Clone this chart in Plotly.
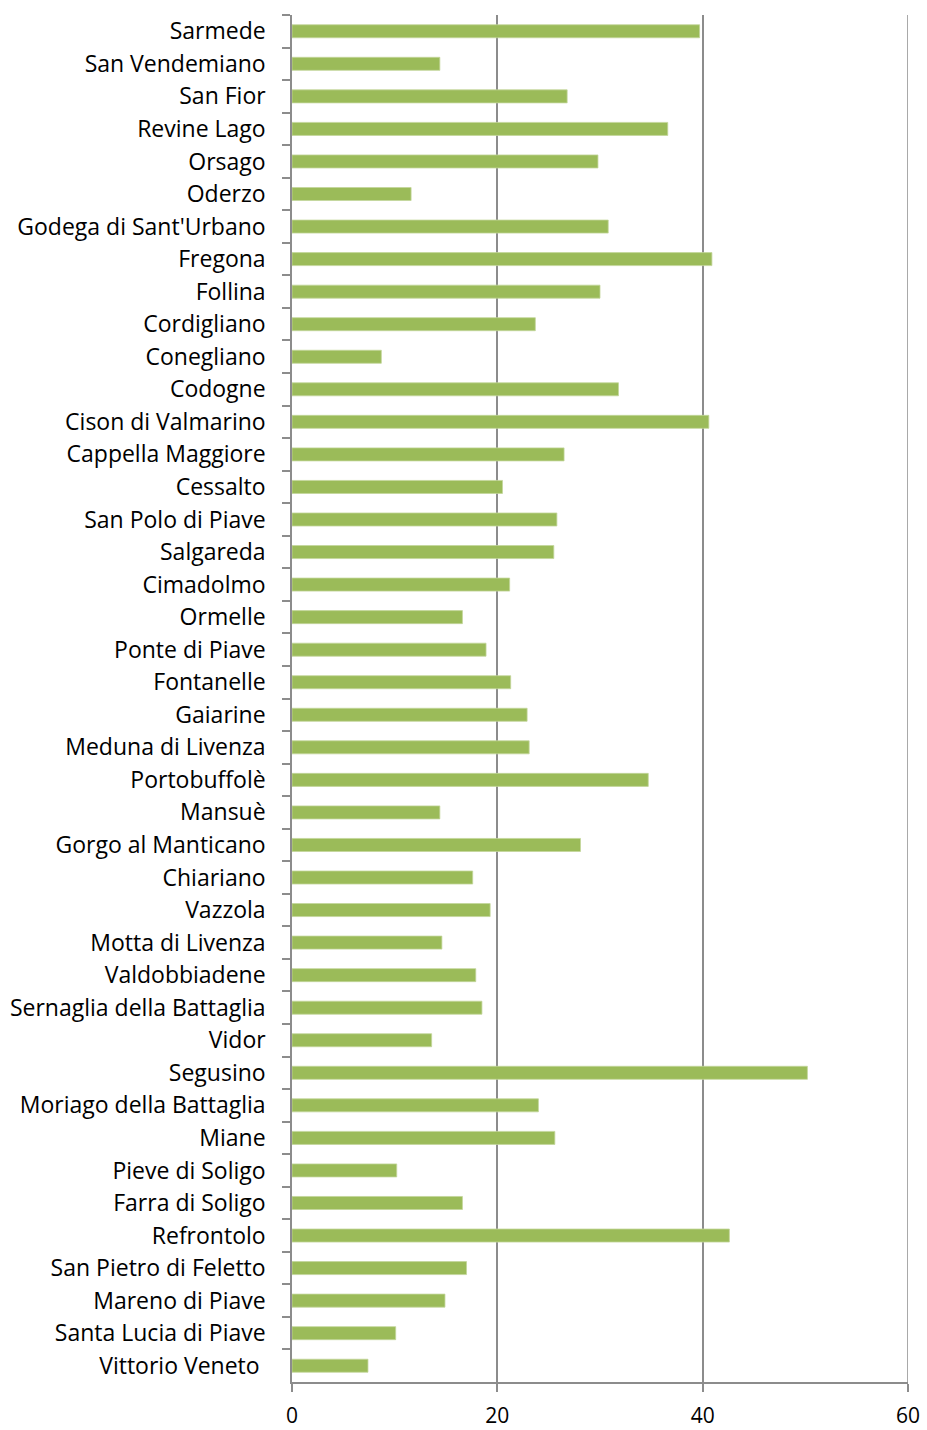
import plotly.graph_objects as go

comuni = [
    "Sarmede", "San Vendemiano", "San Fior", "Revine Lago", "Orsago", "Oderzo",
    "Godega di Sant'Urbano", "Fregona", "Follina", "Cordigliano", "Conegliano",
    "Codogne", "Cison di Valmarino", "Cappella Maggiore", "Cessalto",
    "San Polo di Piave", "Salgareda", "Cimadolmo", "Ormelle", "Ponte di Piave",
    "Fontanelle", "Gaiarine", "Meduna di Livenza", "Portobuffolè", "Mansuè",
    "Gorgo al Manticano", "Chiariano", "Vazzola", "Motta di Livenza",
    "Valdobbiadene", "Sernaglia della Battaglia", "Vidor", "Segusino",
    "Moriago della Battaglia", "Miane", "Pieve di Soligo", "Farra di Soligo",
    "Refrontolo", "San Pietro di Feletto", "Mareno di Piave",
    "Santa Lucia di Piave", "Vittorio Veneto ",
]
valori = [
    39.7, 14.4, 26.8, 36.6, 29.8, 11.6,
    30.8, 40.9, 30.0, 23.7, 8.7,
    31.8, 40.6, 26.5, 20.5,
    25.8, 25.5, 21.2, 16.6, 18.9,
    21.3, 22.9, 23.1, 34.7, 14.4,
    28.1, 17.6, 19.3, 14.6,
    17.9, 18.5, 13.6, 50.2,
    24.0, 25.6, 10.2, 16.6,
    42.6, 17.0, 14.9,
    10.1, 7.4,
]
x_ticks = [0, 20, 40, 60]

GRID = "#8C8C8C"

fig = go.Figure(
    go.Bar(
        x=valori,
        y=comuni,
        orientation="h",
        marker=dict(color="#9BBB59", line=dict(color="#C3D69B", width=0.8)),
    )
)

# vertical line closing the plot at the last x tick
fig.add_shape(
    type="line", xref="x", yref="paper",
    x0=x_ticks[-1], x1=x_ticks[-1], y0=0, y1=1,
    line=dict(color=GRID, width=1.5), layer="below",
)

fig.update_layout(
    width=927,
    height=1430,
    margin=dict(l=292, r=19, t=15, b=48, autoexpand=False),
    paper_bgcolor="white",
    plot_bgcolor="white",
    bargap=0.6,
    showlegend=False,
    font=dict(family="Open Sans, Liberation Sans, sans-serif", color="#000000"),
)

fig.update_xaxes(
    range=[0, 60],
    tickvals=x_ticks,
    showgrid=True,
    gridcolor=GRID,
    gridwidth=1.5,
    zeroline=False,
    showline=True,
    linecolor=GRID,
    linewidth=1.5,
    ticks="outside",
    ticklen=8,
    tickcolor=GRID,
    tickwidth=1.5,
    tickfont=dict(size=21),
    ticklabelstandoff=6,
    automargin=False,
)

fig.update_yaxes(
    categoryorder="array",
    categoryarray=comuni,
    autorange="reversed",
    showgrid=False,
    showline=True,
    linecolor=GRID,
    linewidth=1.5,
    ticks="outside",
    tickson="boundaries",
    ticklen=8,
    tickcolor=GRID,
    tickwidth=1.5,
    tickfont=dict(size=23),
    ticklabelstandoff=20,
    automargin=False,
)

fig.write_html("out.html")
